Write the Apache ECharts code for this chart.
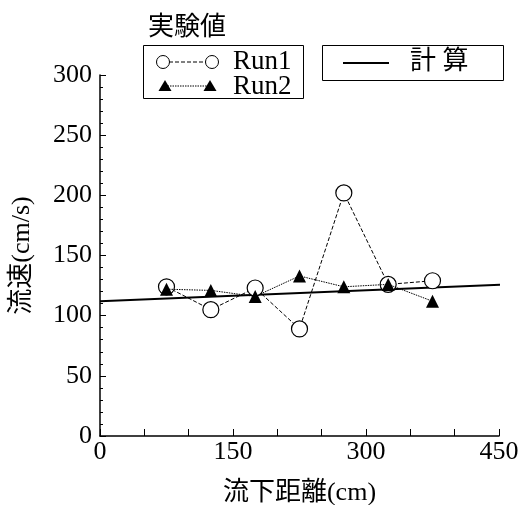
<!DOCTYPE html>
<html><head><meta charset="utf-8">
<script src="https://cdn.jsdelivr.net/npm/echarts@6/dist/echarts.min.js"></script>
<style>html,body{margin:0;padding:0;background:#fff}#c{width:528px;height:505px}</style>
</head><body><div id="c"></div>
<script>
const distances = [75, 125, 175, 225, 275, 325, 375];
const run1 = [124, 105, 123, 89, 202, 126, 129];
const run2 = [122, 121, 116, 133, 124, 126, 112];
const calcX = [0, 457];
const calcY = [112, 125.8];
const xTicks = [0, 150, 300, 450];
const yTicks = [0, 50, 100, 150, 200, 250, 300];
const FONT = "'Liberation Serif', 'Noto Sans CJK JP', serif";

const chart = echarts.init(document.getElementById('c'), null, {renderer: 'canvas'});
chart.setOption({
  animation: false,
  backgroundColor: '#fff',
  grid: {left: 100, right: 29, top: 75, bottom: 69, containLabel: false, outerBoundsMode: 'none'},
  xAxis: {
    type: 'value', min: xTicks[0], max: xTicks[xTicks.length - 1], interval: 150,
    name: '流下距離(cm)', nameLocation: 'middle', nameGap: 44,
    nameTextStyle: {fontFamily: FONT, fontSize: 26, color: '#000'},
    axisLine: {show: true, onZero: false, lineStyle: {color: '#000', width: 1.5}},
    axisTick: {show: true, inside: true, length: 7, lineStyle: {color: '#000', width: 1}},
    minorTick: {show: true, splitNumber: 3, length: 7, lineStyle: {color: '#000', width: 1}},
    axisLabel: {fontFamily: FONT, fontSize: 26, color: '#000', margin: 3},
    splitLine: {show: false}
  },
  yAxis: {
    type: 'value', min: yTicks[0], max: yTicks[yTicks.length - 1], interval: 50,
    name: '流速(cm/s)', nameLocation: 'middle', nameGap: 65, nameRotate: 90,
    nameTextStyle: {fontFamily: FONT, fontSize: 26, color: '#000'},
    axisLine: {show: true, onZero: false, lineStyle: {color: '#000', width: 1.5}},
    axisTick: {show: true, inside: true, length: 6, lineStyle: {color: '#000', width: 1}},
    minorTick: {show: true, splitNumber: 5, length: 3, lineStyle: {color: '#000', width: 1}},
    axisLabel: {fontFamily: FONT, fontSize: 26, color: '#000', margin: 8},
    splitLine: {show: false}
  },
  series: [
    {
      name: '計算', type: 'line', clip: false, symbol: 'none',
      data: calcX.map((x, i) => [x, calcY[i]]),
      lineStyle: {color: '#000', width: 2}, z: 1
    },
    {
      name: 'Run1', type: 'line', symbol: 'circle', symbolSize: 16,
      data: distances.map((x, i) => [x, run1[i]]),
      lineStyle: {color: '#000', width: 1, type: [4, 2]},
      itemStyle: {color: '#fff', borderColor: '#000', borderWidth: 1.2}, z: 2
    },
    {
      name: 'Run2', type: 'line', symbol: 'triangle', symbolSize: 13,
      data: distances.map((x, i) => [x, run2[i]]),
      lineStyle: {color: '#000', width: 1, type: [1.5, 1]},
      itemStyle: {color: '#000'}, z: 3
    }
  ],
  graphic: [
    {type: 'text', left: 148, top: 15, style: {text: '実験値', font: "26px " + FONT, fill: '#000'}},
    {type: 'rect', shape: {x: 143.5, y: 45.5, width: 160, height: 53}, style: {fill: 'none', stroke: '#000', lineWidth: 1}},
    {type: 'line', shape: {x1: 169, y1: 62, x2: 206, y2: 62}, style: {stroke: '#000', lineWidth: 1, lineDash: [4, 2]}},
    {type: 'circle', shape: {cx: 163, cy: 62, r: 6.5}, style: {fill: '#fff', stroke: '#000', lineWidth: 1}},
    {type: 'circle', shape: {cx: 212, cy: 62, r: 6.5}, style: {fill: '#fff', stroke: '#000', lineWidth: 1}},
    {type: 'line', shape: {x1: 165, y1: 86, x2: 210, y2: 86}, style: {stroke: '#000', lineWidth: 1, lineDash: [1.5, 1]}},
    {type: 'polygon', shape: {points: [[165, 80], [158.5, 91], [171.5, 91]]}, style: {fill: '#000'}},
    {type: 'polygon', shape: {points: [[210, 80], [203.5, 91], [216.5, 91]]}, style: {fill: '#000'}},
    {type: 'text', left: 233, top: 48, style: {text: 'Run1', font: "27px " + FONT, fill: '#000'}},
    {type: 'text', left: 233, top: 73, style: {text: 'Run2', font: "27px " + FONT, fill: '#000'}},
    {type: 'rect', shape: {x: 322.5, y: 45.5, width: 181, height: 35}, style: {fill: 'none', stroke: '#000', lineWidth: 1}},
    {type: 'line', shape: {x1: 343, y1: 63, x2: 389, y2: 63}, style: {stroke: '#000', lineWidth: 2}},
    {type: 'text', left: 410, top: 49, style: {text: '計 算', font: "26px " + FONT, fill: '#000'}}
  ]
});
</script></body></html>
